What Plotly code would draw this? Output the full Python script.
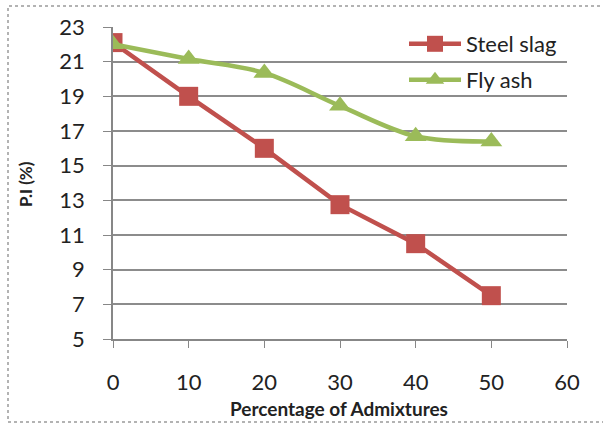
import plotly.graph_objects as go

x_vals = [0, 10, 20, 30, 40, 50]
steel_slag = [22.1, 19.0, 16.0, 12.75, 10.5, 7.5]
fly_ash = [22.0, 21.15, 20.35, 18.45, 16.7, 16.4]
x_ticks = [0, 10, 20, 30, 40, 50, 60]
y_ticks = [5, 7, 9, 11, 13, 15, 17, 19, 21, 23]

FONT = "Lato"
TXT = "#222222"
fig = go.Figure()
fig.add_trace(go.Scatter(
    x=x_vals, y=steel_slag, name="Steel slag", mode="lines+markers",
    line=dict(color="#C0504D", width=4.5),
    marker=dict(symbol="square", size=19, color="#C0504D"),
    legend="legend",
))
fig.add_trace(go.Scatter(
    x=x_vals, y=fly_ash, name="Fly ash", mode="lines+markers",
    line=dict(color="#9BBB59", width=4.5, shape="spline", smoothing=1),
    marker=dict(symbol="triangle-up", size=19, color="#9BBB59"),
    legend="legend2",
))

L, R, T, B = 113, 567, 27, 339
W, H = 603, 424
pw, ph = R - L, B - T
def px(x): return (x - L) / pw
def py(y): return (B - y) / ph

fig.add_shape(type="rect", xref="paper", yref="paper",
              x0=px(8), x1=px(612), y0=py(422), y1=py(6),
              line=dict(color="#9a9a9a", width=1.5, dash="dot"), layer="below")

fig.add_annotation(text="<b>Percentage of Admixtures</b>", xref="paper", yref="paper",
                   x=px(339), y=py(408), showarrow=False, xanchor="center", yanchor="middle",
                   font=dict(size=19, family=FONT, color=TXT))
fig.add_annotation(text="<b>P.I (%)</b>", xref="paper", yref="paper",
                   x=px(25), y=py(184), showarrow=False, xanchor="center", yanchor="middle",
                   textangle=-90, font=dict(size=17, family=FONT, color=TXT))

leg_common = dict(xanchor="left", yanchor="middle",
                  font=dict(size=22, family=FONT, color=TXT),
                  bgcolor="rgba(0,0,0,0)", itemwidth=52)

fig.update_layout(
    width=W, height=H,
    margin=dict(l=L, r=W - R, t=T, b=H - B),
    paper_bgcolor="white", plot_bgcolor="white",
    font=dict(family=FONT, color=TXT),
    showlegend=True,
    legend=dict(x=px(404), y=py(44), **leg_common),
    legend2=dict(x=px(404), y=py(80), **leg_common),
    xaxis=dict(range=[0, 60], tickvals=x_ticks, showgrid=False, zeroline=False,
               showline=True, linecolor="#878787", linewidth=1.5,
               ticks="outside", ticklen=7, tickcolor="#878787",
               ticklabelstandoff=16, automargin=False,
               tickfont=dict(size=22, family=FONT, color=TXT)),
    yaxis=dict(range=[5, 23], tickvals=y_ticks, showgrid=True, gridcolor="#8c8c8c",
               gridwidth=1.5, zeroline=False, showline=True, linecolor="#878787",
               linewidth=1.5, ticks="outside", ticklen=8, tickcolor="#878787",
               ticklabelstandoff=14, automargin=False,
               tickfont=dict(size=22, family=FONT, color=TXT)),
)
fig.write_html("out.html", config={"displayModeBar": False},
               post_script="document.body.style.margin='0';document.body.style.padding='0';document.body.style.overflow='hidden';")
